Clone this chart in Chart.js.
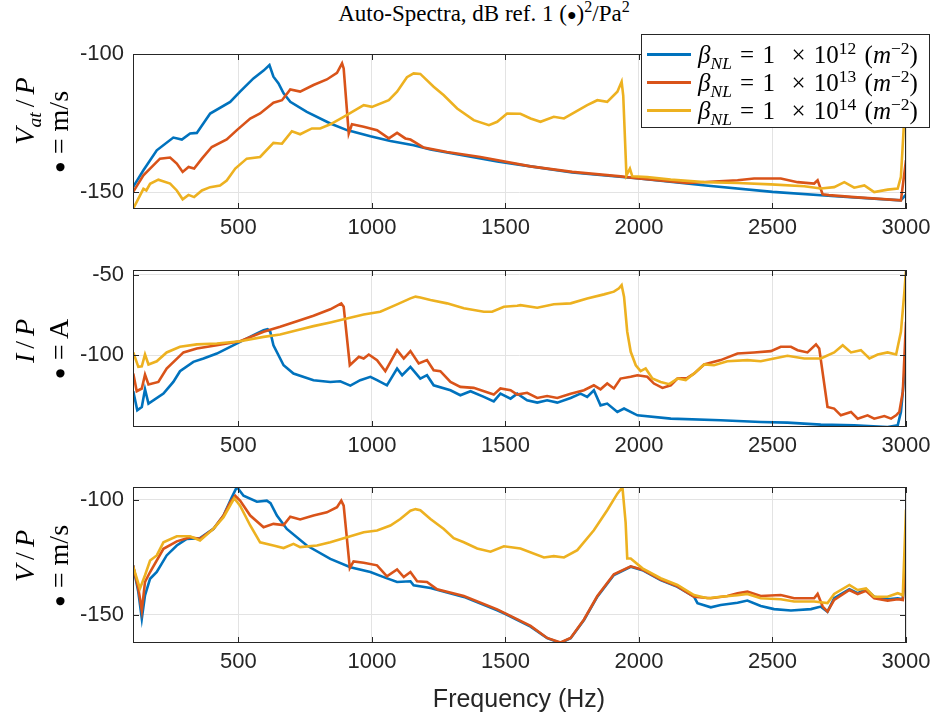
<!DOCTYPE html>
<html>
<head>
<meta charset="utf-8">
<script src="https://cdn.jsdelivr.net/npm/chart.js@4.4.0/dist/chart.umd.min.js"></script>
<style>
  body { margin: 0; background: #fff; width: 935px; height: 722px; position: relative; overflow: hidden; }
  canvas { position: absolute; left: 0; }
  .tex { position: absolute; font-family: "Liberation Serif", serif; color: #000; white-space: nowrap; line-height: 1; }
  .ylab { transform: translate(-50%, -50%) rotate(-90deg); font-size: 28px; }
  .tex sub, .tex sup { font-size: 70%; line-height: 0; }
  .tex .dot { font-size: 70%; position: relative; top: -0.08em; }
  .tex .sl { padding: 0 5px; }
  #title { left: 484px; top: 2px; transform: translateX(-50%); font-size: 23px; }
  #xlabel { position: absolute; left: 519px; top: 684px; transform: translateX(-50%); font: 25px "Liberation Sans", sans-serif; color: #262626; }
  #legend { position: absolute; left: 641px; top: 34px; width: 287px; height: 92px; border: 1px solid #262626; background: #fff; z-index: 5; }
  #legend .row { position: absolute; left: 0; height: 28px; display: flex; align-items: center; }
  #legend .swatch { width: 44px; height: 3px; margin-left: 5px; margin-right: 7px; }
  #legend .tex { position: static; font-size: 25px; word-spacing: 2px; }
</style>
</head>
<body>
<div id="title" class="tex">Auto-Spectra, dB ref. 1 (<span class="dot">&#9679;</span>)<sup>2</sup>/Pa<sup>2</sup></div>

<canvas id="c1" width="935" height="216" style="top:38px"></canvas>
<canvas id="c2" width="935" height="218" style="top:254px"></canvas>
<canvas id="c3" width="935" height="217" style="top:471px"></canvas>

<div class="tex ylab" style="left:25px; top:111px"><i>V</i><sub><i>at</i></sub><span class="sl">/</span><i>P</i></div>
<div class="tex ylab" style="left:59px; top:132px"><span class="dot">&#9679;</span> = m/s</div>
<div class="tex ylab" style="left:25px; top:341px"><i>I</i><span class="sl">/</span><i>P</i></div>
<div class="tex ylab" style="left:59px; top:349px"><span class="dot">&#9679;</span> = A</div>
<div class="tex ylab" style="left:25px; top:556px"><i>V</i><span class="sl">/</span><i>P</i></div>
<div class="tex ylab" style="left:59px; top:566px"><span class="dot">&#9679;</span> = m/s</div>

<div id="xlabel">Frequency (Hz)</div>

<div id="legend">
  <div class="row" style="top:5px"><div class="swatch" style="background:#0072BD"></div><span class="tex"><i>&beta;</i><sub><i>NL</i></sub> = 1 &nbsp;&times; 10<sup>12</sup> (<i>m</i><sup>&minus;2</sup>)</span></div>
  <div class="row" style="top:33px"><div class="swatch" style="background:#D95319"></div><span class="tex"><i>&beta;</i><sub><i>NL</i></sub> = 1 &nbsp;&times; 10<sup>13</sup> (<i>m</i><sup>&minus;2</sup>)</span></div>
  <div class="row" style="top:61px"><div class="swatch" style="background:#EDB120"></div><span class="tex"><i>&beta;</i><sub><i>NL</i></sub> = 1 &nbsp;&times; 10<sup>14</sup> (<i>m</i><sup>&minus;2</sup>)</span></div>
</div>

<script>
const colors = ['#0072BD', '#D95319', '#EDB120'];
const freqTicks = [500, 1000, 1500, 2000, 2500, 3000];

// V_at / P
const vatFreq12 = [105,144,194,256,288,319,344,394,469,506,556,594,616,631,650,669,694,756,844,906,994,1069,1156,1219,1344,1469,1594,1750,2000,2250,2500,2750,2980,3000];
const vatDb12 = [-148.1,-142.0,-134.8,-130.2,-130.9,-128.7,-128.5,-121.5,-117.3,-113.6,-108.8,-106.0,-104.0,-108.2,-110.6,-114.2,-117.3,-120.9,-125.1,-127.5,-129.7,-131.4,-133.0,-134.5,-136.7,-138.8,-140.6,-142.8,-145.0,-147.5,-149.8,-151.5,-152.9,-150.8];
const vatFreq13 = [105,144,206,244,269,291,313,334,363,400,456,494,544,581,631,663,694,731,781,831,869,888,894,913,925,969,1019,1063,1094,1125,1144,1194,1281,1406,1594,1750,1931,2000,2181,2369,2431,2531,2594,2656,2669,2688,2711,2806,2981,3000];
const vatDb13 = [-149.9,-143.8,-137.8,-137.4,-139.6,-142.6,-140.8,-141.4,-137.8,-133.6,-130.9,-127.5,-123.3,-121.5,-117.6,-116.7,-112.8,-113.6,-111.2,-109.2,-106.8,-103.4,-105.2,-128.7,-125.4,-126.3,-127.5,-130.5,-128.5,-130.5,-130.9,-133.8,-135.4,-137.2,-140.6,-142.6,-144.2,-145.0,-146.6,-145.6,-145.0,-145.0,-146.3,-146.8,-145.6,-150.7,-151.0,-151.7,-152.9,-138.4];
const vatFreq14 = [105,144,155,169,200,244,269,291,313,334,363,394,431,456,488,531,581,631,663,700,731,775,806,844,894,969,1000,1063,1094,1131,1156,1181,1231,1269,1319,1381,1438,1469,1506,1556,1594,1631,1681,1719,1806,1844,1881,1919,1935,1941,1953,1966,1975,2031,2119,2244,2369,2494,2619,2681,2731,2769,2806,2844,2881,2931,2969,2981,2991,3000];
const vatDb14 = [-156.0,-148.7,-149.3,-146.9,-145.4,-146.8,-149.3,-152.5,-150.9,-151.7,-149.3,-148.1,-147.5,-145.7,-141.4,-137.8,-137.2,-132.1,-132.4,-127.9,-129.0,-126.9,-126.9,-125.4,-122.7,-118.5,-119.1,-116.7,-113.6,-108.4,-107.0,-107.2,-111.8,-114.9,-119.7,-123.9,-125.7,-124.5,-121.5,-121.6,-123.3,-124.5,-122.7,-123.3,-118.5,-116.7,-117.3,-113.6,-110.0,-115.0,-143.8,-141.4,-144.2,-144.5,-145.4,-146.3,-146.6,-147.1,-147.8,-148.6,-148.1,-146.3,-148.3,-147.5,-149.9,-149.0,-148.6,-144.4,-127.5,-100.0];

// I / P
const iFreq12 = [106,121,138,150,163,219,256,281,331,369,419,469,506,556,594,609,619,631,669,706,781,844,881,919,956,994,1019,1056,1094,1113,1144,1181,1206,1231,1294,1331,1369,1419,1456,1481,1519,1544,1581,1619,1656,1694,1744,1781,1806,1831,1856,1881,1919,1944,1994,2119,2306,2456,2556,2681,2806,2931,2969,2981,2994,3000];
const iDb12 = [-122.5,-134.4,-132.3,-121.3,-130.2,-124.0,-116.7,-110.0,-104.2,-102.1,-99.0,-94.8,-91.7,-87.5,-84.4,-83.8,-85.4,-93.8,-106.3,-111.5,-115.6,-116.7,-116.3,-119.0,-115.6,-113.5,-115.6,-118.8,-108.3,-112.5,-107.3,-114.6,-112.5,-118.8,-121.9,-125.0,-122.5,-126.0,-128.8,-124.0,-127.1,-124.0,-128.1,-129.6,-128.1,-129.6,-126.7,-124.0,-126.0,-121.9,-131.3,-130.2,-135.4,-133.3,-137.5,-139.6,-140.6,-141.7,-142.1,-143.3,-143.8,-144.8,-143.8,-135.4,-112.5,-102.1];
const iFreq13 = [106,119,138,150,163,200,231,294,344,419,506,594,656,719,781,844,885,894,917,951,969,988,1019,1050,1094,1119,1144,1175,1206,1231,1256,1294,1331,1381,1456,1481,1519,1544,1581,1619,1656,1694,1744,1794,1831,1856,1881,1906,1931,1969,1994,2031,2056,2088,2119,2144,2181,2206,2244,2306,2369,2431,2494,2531,2569,2594,2631,2663,2675,2706,2731,2756,2794,2819,2856,2881,2919,2944,2963,2975,2988,3000];
const iDb13 = [-111.5,-122.5,-120.8,-112.1,-118.3,-116.7,-108.3,-98.3,-95.8,-93.8,-91.3,-85.4,-82.3,-78.8,-75.4,-71.4,-67.7,-69.8,-106.3,-101.0,-102.1,-99.6,-103.1,-110.0,-96.9,-102.1,-97.5,-105.2,-103.1,-109.4,-110.0,-116.7,-119.8,-120.4,-124.6,-120.8,-121.9,-124.6,-123.5,-126.7,-125.5,-126.7,-124.0,-121.9,-118.8,-121.3,-117.7,-120.8,-114.6,-113.5,-112.5,-113.5,-117.7,-120.4,-118.8,-114.6,-114.2,-111.5,-105.8,-103.1,-99.0,-98.3,-97.5,-94.8,-94.8,-96.9,-98.3,-93.3,-95.8,-132.3,-133.3,-137.5,-135.4,-139.6,-137.5,-139.6,-138.0,-139.6,-137.5,-135.4,-122.9,-79.2];
const iFreq14 = [106,125,138,150,163,194,231,281,344,419,506,594,656,719,781,844,906,969,1031,1094,1144,1163,1181,1219,1281,1344,1419,1450,1494,1544,1556,1619,1681,1744,1806,1869,1906,1925,1935,1944,1956,1969,1988,2006,2025,2050,2081,2113,2144,2175,2206,2244,2281,2331,2406,2456,2506,2556,2619,2681,2731,2763,2794,2831,2863,2894,2931,2963,2981,2994,3000];
const iDb14 = [-98.3,-107.3,-107.0,-99.6,-105.8,-103.8,-98.3,-94.8,-93.3,-92.7,-91.3,-88.6,-87.1,-84.4,-81.9,-79.6,-77.1,-74.6,-72.9,-68.3,-64.6,-63.5,-64.0,-65.6,-67.7,-70.8,-72.9,-72.9,-69.8,-69.2,-68.8,-70.4,-68.3,-67.7,-64.6,-62.1,-60.4,-58.3,-56.3,-63.5,-85.4,-97.9,-106.3,-110.0,-108.3,-114.6,-116.7,-118.1,-114.6,-115.5,-111.5,-105.8,-106.3,-103.8,-103.1,-103.8,-102.1,-100.4,-102.1,-102.1,-98.3,-93.8,-98.3,-96.9,-102.1,-99.6,-98.3,-99.6,-85.4,-60.4,-46.9];

// V / P
const vFreq12 = [105,125,138,150,169,194,231,269,306,356,406,444,475,494,519,569,606,620,644,681,756,844,919,994,1044,1094,1144,1156,1219,1344,1469,1500,1594,1656,1706,1744,1794,1844,1906,1969,2013,2081,2144,2206,2219,2269,2306,2369,2406,2456,2506,2569,2644,2681,2706,2731,2788,2819,2850,2881,2931,2969,2988,3000];
const vDb12 = [-128.5,-140.1,-151.6,-141.5,-134.3,-131.4,-124.2,-119.9,-117.0,-116.7,-112.7,-106.9,-99.0,-94.5,-98.3,-100.9,-100.4,-101.5,-106.9,-112.7,-119.9,-125.7,-129.3,-131.4,-133.6,-135.7,-135.4,-137.2,-138.3,-142.2,-148.0,-149.6,-155.1,-160.1,-162.2,-160.1,-152.2,-142.1,-132.7,-129.1,-130.6,-134.9,-137.8,-142.1,-144.9,-146.7,-145.7,-144.7,-143.8,-146.1,-147.5,-148.1,-147.5,-146.4,-148.6,-142.8,-138.9,-140.6,-138.9,-142.1,-143.2,-142.8,-143.2,-126.0];
const vFreq13 = [105,125,138,150,169,219,269,319,356,406,444,469,488,506,544,594,631,669,694,731,781,831,869,885,894,917,931,969,1019,1056,1094,1119,1144,1169,1206,1244,1344,1469,1594,1656,1706,1744,1794,1844,1906,1969,2013,2081,2144,2206,2269,2331,2369,2406,2456,2531,2581,2656,2669,2688,2706,2731,2788,2819,2850,2881,2931,2969,2988,3000];
const vDb13 = [-128.5,-138.6,-148.0,-135.7,-131.4,-121.3,-118.1,-116.3,-117.0,-112.7,-106.9,-101.2,-98.3,-100.4,-106.9,-112.0,-110.5,-111.0,-107.4,-108.6,-106.9,-105.5,-103.3,-100.4,-102.6,-129.7,-126.8,-127.4,-128.5,-133.3,-130.3,-133.6,-131.4,-135.4,-135.7,-138.9,-141.8,-147.6,-154.8,-160.0,-162.0,-160.0,-152.0,-141.8,-132.4,-128.9,-130.4,-134.7,-137.6,-142.1,-142.8,-141.8,-140.6,-139.9,-141.8,-141.4,-142.8,-142.8,-140.9,-146.4,-148.6,-143.5,-139.2,-141.0,-139.5,-142.8,-143.8,-143.2,-143.5,-124.1];
const vFreq14 = [105,131,150,169,194,219,269,319,356,406,444,484,506,544,581,631,669,706,731,794,844,894,969,1019,1069,1106,1144,1163,1181,1219,1269,1306,1344,1394,1444,1494,1556,1644,1681,1719,1769,1831,1881,1919,1938,1950,1956,1969,2013,2081,2144,2206,2256,2306,2369,2406,2456,2531,2581,2656,2706,2731,2788,2819,2850,2881,2931,2969,2988,3000];
const vDb14 = [-128.8,-138.6,-132.8,-126.4,-124.2,-118.5,-115.9,-115.9,-117.7,-112.7,-107.6,-99.4,-102.6,-111.2,-118.5,-119.9,-121.0,-119.2,-120.6,-119.9,-118.5,-116.7,-114.1,-113.4,-111.2,-108.4,-104.8,-104.1,-104.6,-108.4,-112.7,-116.7,-118.5,-121.2,-122.6,-120.2,-121.2,-125.1,-124.5,-125.1,-121.9,-113.3,-104.6,-97.4,-94.6,-110.0,-125.5,-125.5,-129.8,-134.1,-137.0,-141.4,-142.8,-142.1,-141.5,-140.9,-142.8,-143.2,-144.2,-144.2,-144.9,-140.9,-137.0,-139.2,-138.5,-142.1,-142.1,-140.6,-141.4,-104.3];

function toPoints(f, v) {
  return f.map((x, i) => ({ x: x, y: v[i] }));
}

// axes box and inward tick marks on all four sides
const boxPlugin = {
  id: 'box',
  afterDraw(chart) {
    const { ctx, chartArea: a, scales } = chart;
    ctx.save();
    ctx.strokeStyle = '#262626';
    ctx.lineWidth = 1;
    ctx.strokeRect(Math.round(a.left) + 0.5, Math.round(a.top) + 0.5,
                   Math.round(a.right - a.left) - 1, Math.round(a.bottom - a.top) - 1);
    ctx.beginPath();
    scales.x.ticks.forEach(t => {
      const x = Math.round(scales.x.getPixelForValue(t.value)) + 0.5;
      ctx.moveTo(x, a.bottom); ctx.lineTo(x, a.bottom - 6);
      ctx.moveTo(x, a.top); ctx.lineTo(x, a.top + 6);
    });
    scales.y.ticks.forEach(t => {
      const y = Math.round(scales.y.getPixelForValue(t.value)) + 0.5;
      ctx.moveTo(a.left, y); ctx.lineTo(a.left + 6, y);
      ctx.moveTo(a.right, y); ctx.lineTo(a.right - 6, y);
    });
    ctx.stroke();
    ctx.restore();
  }
};

function makeAxes(id, yMin, yMax, yTicks, curves) {
  const tickFont = { family: 'Liberation Sans', size: 22 };
  return new Chart(document.getElementById(id), {
    type: 'line',
    data: {
      datasets: curves.map((c, i) => ({
        data: toPoints(c[0], c[1]),
        borderColor: colors[i],
        borderWidth: 2.6,
        pointRadius: 0,
        tension: 0,
        order: 2 - i
      }))
    },
    options: {
      responsive: false,
      animation: false,
      layout: { padding: { top: 16, right: 29, left: 0, bottom: 0 } },
      plugins: { legend: { display: false }, tooltip: { enabled: false } },
      scales: {
        x: {
          type: 'linear', min: 105, max: 3000,
          afterBuildTicks: s => { s.ticks = freqTicks.map(value => ({ value })); },
          afterFit: s => { s.height = 45; s.paddingLeft = 0; s.paddingRight = 0; },
          grid: { color: '#e3e3e3', drawTicks: false },
          border: { display: false },
          ticks: { color: '#262626', font: tickFont, padding: 6, maxRotation: 0, callback: v => String(v) }
        },
        y: {
          min: yMin, max: yMax,
          afterBuildTicks: s => { s.ticks = yTicks.map(value => ({ value })); },
          afterFit: s => { s.width = 133; s.paddingTop = 0; s.paddingBottom = 0; },
          grid: { color: '#e3e3e3', drawTicks: false },
          border: { display: false },
          ticks: { color: '#262626', font: tickFont, padding: 9, callback: v => String(v) }
        }
      }
    },
    plugins: [boxPlugin]
  });
}

makeAxes('c1', -156, -100, [-150, -100], [[vatFreq12, vatDb12], [vatFreq13, vatDb13], [vatFreq14, vatDb14]]);
makeAxes('c2', -144.8, -46.9, [-100, -50], [[iFreq12, iDb12], [iFreq13, iDb13], [iFreq14, iDb14]]);
makeAxes('c3', -162.2, -94.5, [-150, -100], [[vFreq12, vDb12], [vFreq13, vDb13], [vFreq14, vDb14]]);
</script>
</body>
</html>
